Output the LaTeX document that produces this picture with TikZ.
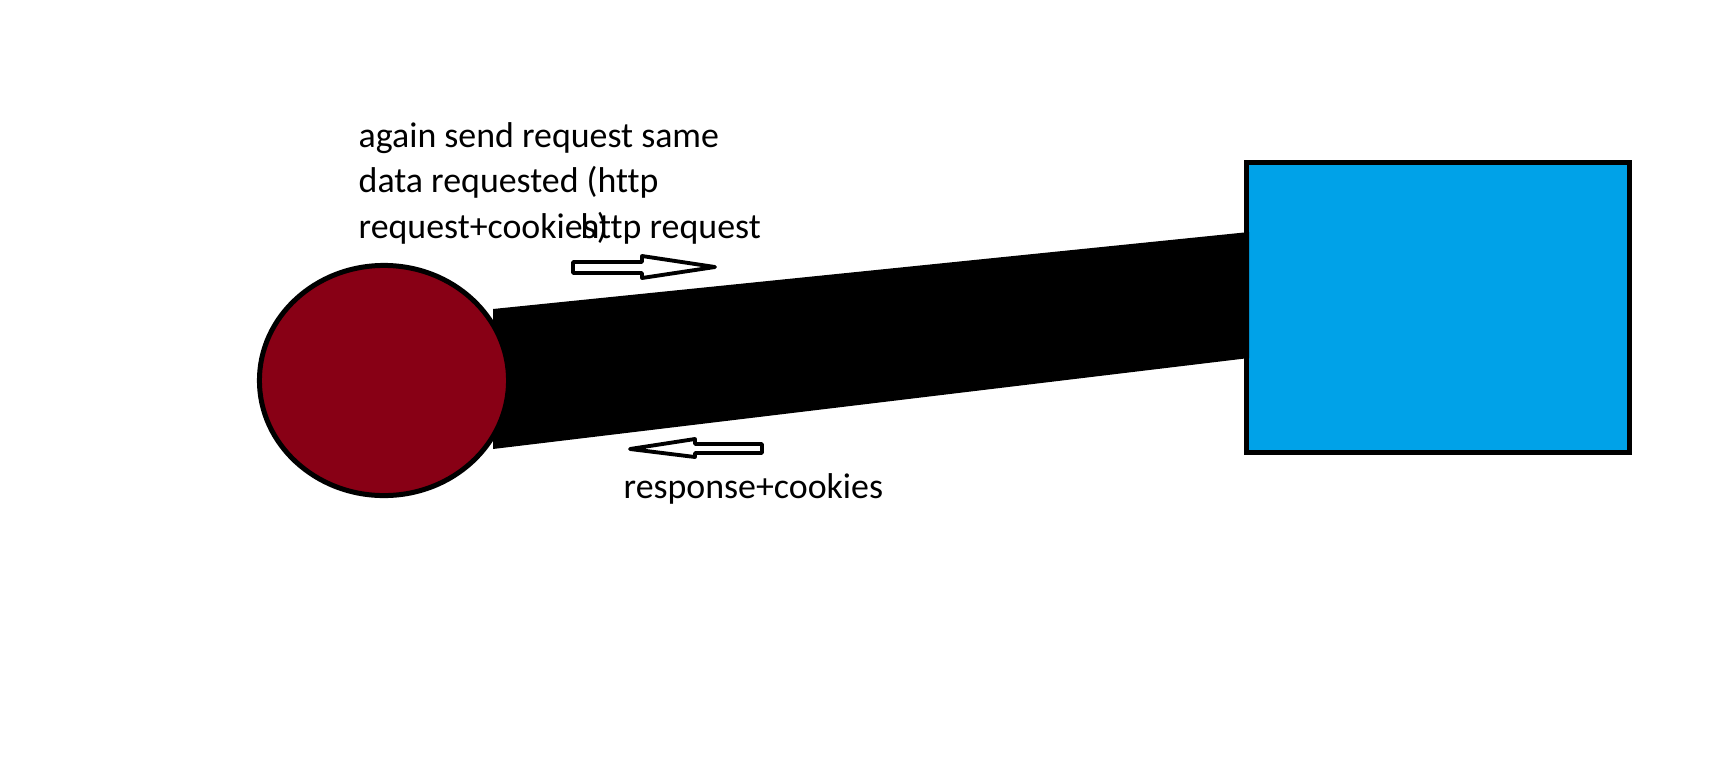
\documentclass[tikz,border=0pt]{standalone}
\usepackage{fontspec}
\setmainfont{Carlito}[Ligatures=NoCommon]
\usetikzlibrary{shapes.geometric}
\definecolor{paintred}{HTML}{880015}
\definecolor{paintblue}{HTML}{00A2E8}

\begin{document}
\begin{tikzpicture}[x=0.01cm, y=-0.01cm, font=\fontsize{10.2}{12.8}\selectfont,
	client/.style={ellipse, draw, fill=paintred, line width=1.42pt, inner sep=0pt, minimum width=2.49cm, minimum height=2.30cm},
	server/.style={rectangle, draw, fill=paintblue, line width=1.42pt, inner sep=0pt, minimum width=3.83cm, minimum height=2.90cm},
	note/.style={inner sep=0pt, anchor=base west},
	hollow/.style={draw, fill=white, line width=1.1pt, line join=round}]
	\useasboundingbox (0,0) rectangle (1717,766);
	% server and the wide link
	\node[server] (server) at (1438,307.5) {};
	\fill (493,309) -- (1249,232) -- (1249,358) -- (493,449) -- cycle;
	\node[client] (client) at (384,380.5) {};
	% labels
	\node[note, align=left] (again) at (358,238) {again send request same\\data requested (http\\request+cookies)};
	\node[note] (httpreq) at (580,238) {http request};
	\node[note] (resp) at (623,498) {response+cookies};
	% hollow arrows
	\draw[hollow] (573,262) -- (642,262) -- (642,256) -- (715,267) -- (642,278) -- (642,273) -- (573,273) -- cycle;
	\draw[hollow] (762,444) -- (695,444) -- (695,439) -- (630,449) -- (695,457) -- (695,453) -- (762,453) -- cycle;
\end{tikzpicture}
\end{document}
